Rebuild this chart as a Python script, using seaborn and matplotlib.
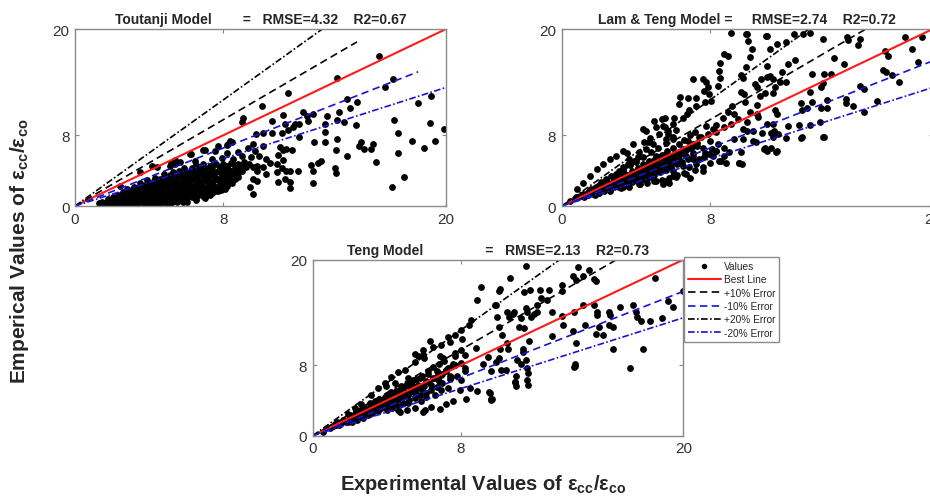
import numpy as np
import pandas as pd
import seaborn as sns
import matplotlib
matplotlib.use('Agg')
import matplotlib.pyplot as plt

toutanji_pts = [
    (16.4, 16.9), (14.1, 14.5), (17.16, 14.4), (16.7, 13.5), (11.47, 12.77), (10.1, 11.3), (14.65, 12.1),
    (15.2, 11.7), (19.2, 12.4), (18.5, 11.6), (19.9, 8.65), (19.13, 9.34), (19.4, 7.4), (18.8, 6.6),
    (18.15, 7.4), (17.2, 9.75), (17.4, 8.3), (17.75, 3.23), (17.07, 2.2), (17.43, 5.95), (16.2, 5.0),
    (16.08, 7.0), (15.6, 6.4), (15.4, 7.2), (15.3, 6.8), (15.96, 6.4), (15.15, 9.1), (14.65, 5.7),
    (14.1, 7.6), (14.07, 6.3), (14.03, 4.3), (14.07, 3.7), (14.25, 10.6), (14.1, 9.7), (14.5, 9.55),
    (14.8, 11.1), (13.6, 10.2), (13.5, 9.3), (13.5, 8.4), (13.47, 7.2), (12.9, 7.2), (13.26, 5.1),
    (13.08, 4.9), (12.7, 4.6), (12.85, 4.0), (12.85, 2.6), (12.3, 10.6), (12.58, 9.66), (12.81, 10.4),
    (12.49, 10.2), (12.1, 9.3), (12.1, 7.83), (11.86, 9.3), (11.77, 8.9), (11.23, 10.3), (11.3, 9.27),
    (11.5, 8.6), (11.14, 8.25), (10.63, 8.3), (10.6, 9.57), (10.15, 8.3), (9.76, 8.1), (9.61, 7.0),
    (11.05, 6.7), (11.2, 6.3), (11.4, 6.4), (11.7, 6.3), (10.95, 5.8), (11.23, 5.2), (10.87, 4.75),
    (10.3, 5.3), (10.5, 4.9), (10.15, 4.4), (9.6, 4.4), (9.8, 4.0), (10.3, 3.6), (10.87, 3.8),
    (11.14, 4.3), (11.4, 4.0), (11.6, 4.0), (12.0, 4.0), (10.93, 2.7), (11.6, 2.7), (11.6, 2.0),
    (11.3, 3.05), (9.8, 2.85), (9.6, 1.4), (9.43, 2.1),
    (9.07, 10.0), (8.98, 9.45), (8.45, 7.2), (8.17, 6.9), (7.0, 6.33), (6.23, 5.87), (5.4, 5.25),
    (4.13, 4.5), (4.4, 4.4), (3.5, 3.88), (2.42, 2.3), (5.66, 5.0), (5.2, 4.9), (6.47, 5.1),
    (7.55, 6.2), (7.7, 6.8), (8.27, 7.05), (8.36, 7.36), (6.9, 6.3), (6.2, 5.85), (5.4, 4.75),
    (5.1, 4.5), (10.15, 6.8), (9.9, 5.66), (9.6, 3.0), (9.8, 4.5),
    (1.3, 0.3), (1.6, 0.2), (1.9, 0.35), (2.2, 0.2), (2.5, 0.3), (2.8, 0.15), (3.1, 0.3), (3.4, 0.2),
    (3.7, 0.35), (4.0, 0.2), (4.3, 0.3), (4.6, 0.25), (4.9, 0.35), (5.2, 0.3), (5.5, 0.4), (5.8, 0.5),
    (1.8, 0.8), (2.1, 0.7), (2.4, 0.9), (2.7, 0.6), (3.0, 0.8), (3.3, 0.7), (3.6, 0.9), (3.9, 0.6),
    (4.2, 0.8), (4.5, 0.7), (4.8, 0.9), (5.1, 0.75), (5.4, 0.9), (5.7, 1.0), (6.0, 0.8), (6.3, 1.0),
    (6.6, 1.1), (2.3, 1.3), (2.6, 1.2), (2.9, 1.4), (3.2, 1.1), (3.5, 1.3), (3.8, 1.2), (4.1, 1.4),
    (4.4, 1.1), (4.7, 1.3), (5.0, 1.2), (5.3, 1.4), (5.6, 1.3), (5.9, 1.5), (6.2, 1.3), (6.5, 1.5),
    (6.8, 1.4), (7.1, 1.6), (7.4, 1.5), (7.7, 1.7), (2.8, 1.9), (3.1, 1.8), (3.4, 2.0), (3.7, 1.7),
    (4.0, 1.9), (4.3, 1.8), (4.6, 2.0), (4.9, 1.7), (5.2, 1.9), (5.5, 1.8), (5.8, 2.1), (6.1, 1.9),
    (6.4, 2.1), (6.7, 1.8), (7.0, 2.0), (7.3, 2.2), (7.6, 1.9), (7.9, 2.1), (8.2, 2.3), (3.5, 2.6),
    (3.8, 2.4), (4.1, 2.6), (4.4, 2.5), (4.7, 2.7), (5.0, 2.4), (5.3, 2.6), (5.6, 2.5), (5.9, 2.7),
    (6.2, 2.5), (6.5, 2.8), (6.8, 2.6), (7.1, 2.8), (7.4, 2.6), (7.7, 2.9), (8.0, 2.7), (8.3, 2.9),
    (8.6, 3.0), (4.3, 3.2), (4.6, 3.1), (4.9, 3.3), (5.2, 3.2), (5.5, 3.4), (5.8, 3.1), (6.1, 3.3),
    (6.4, 3.2), (6.7, 3.5), (7.0, 3.3), (7.3, 3.5), (7.6, 3.2), (7.9, 3.4), (8.2, 3.6), (8.5, 3.5),
    (8.8, 3.7), (5.3, 3.9), (5.6, 4.0), (5.9, 3.8), (6.2, 4.0), (6.5, 3.9), (6.8, 4.1), (7.1, 3.9),
    (7.4, 4.2), (7.7, 4.0), (8.0, 4.2), (8.3, 4.1), (8.6, 4.3), (8.9, 4.2), (9.2, 4.4), (6.5, 4.6),
    (6.9, 4.7), (7.3, 4.5), (7.6, 4.8), (8.0, 4.7), (8.4, 4.9), (8.8, 4.7), (9.1, 5.0), (9.4, 4.8),
    (7.4, 5.3), (7.9, 5.4), (8.5, 5.3), (9.0, 5.6), (9.5, 5.5), (8.8, 6.1), (9.3, 6.5), (8.2, 6.0),
    (9.7, 6.2),
    (1.45, 0.5), (1.75, 0.45), (2.05, 0.5), (2.35, 0.45), (2.65, 0.4), (2.95, 0.5), (3.25, 0.45),
    (3.55, 0.55), (3.85, 0.45), (4.15, 0.5), (4.45, 0.45), (4.75, 0.55), (5.05, 0.5), (5.35, 0.6),
    (5.65, 0.7), (6.05, 0.5), (6.5, 0.7), (7.0, 0.9), (2.05, 1.0), (2.35, 1.05), (2.65, 0.95),
    (2.95, 1.05), (3.25, 0.95), (3.55, 1.05), (3.85, 1.0), (4.15, 1.05), (4.45, 0.95), (4.75, 1.05),
    (5.05, 1.0), (5.35, 1.1), (5.65, 1.05), (5.95, 1.15), (6.4, 1.25), (6.9, 1.15), (7.3, 1.2),
    (2.6, 1.6), (2.95, 1.55), (3.25, 1.6), (3.55, 1.5), (3.85, 1.6), (4.15, 1.55), (4.45, 1.6),
    (4.75, 1.5), (5.05, 1.6), (5.35, 1.55), (5.65, 1.65), (5.95, 1.6), (6.25, 1.7), (6.6, 1.65),
    (6.95, 1.75), (7.25, 1.85), (7.55, 1.75), (7.85, 1.8), (8.1, 1.95), (3.2, 2.2), (3.55, 2.25),
    (3.85, 2.15), (4.15, 2.25), (4.45, 2.2), (4.75, 2.3), (5.05, 2.15), (5.35, 2.25), (5.65, 2.2),
    (5.95, 2.35), (6.25, 2.2), (6.55, 2.35), (6.85, 2.25), (7.15, 2.4), (7.5, 2.3), (7.8, 2.45),
    (8.1, 2.5), (8.45, 2.6), (3.9, 2.9), (4.25, 2.85), (4.55, 2.9), (4.85, 2.8), (5.15, 2.9),
    (5.45, 2.85), (5.75, 2.95), (6.05, 2.85), (6.35, 3.0), (6.65, 2.9), (6.95, 3.05), (7.25, 2.95),
    (7.55, 3.1), (7.85, 3.0), (8.15, 3.2), (8.45, 3.25), (8.8, 3.3), (4.8, 3.6), (5.1, 3.55),
    (5.4, 3.65), (5.7, 3.5), (6.0, 3.6), (6.3, 3.55), (6.6, 3.7), (6.9, 3.6), (7.2, 3.75),
    (7.5, 3.65), (7.8, 3.8), (8.1, 3.85), (8.4, 3.9), (8.7, 3.95), (9.0, 4.0), (5.9, 4.3),
    (6.3, 4.35), (6.7, 4.4), (7.0, 4.3), (7.4, 4.5), (7.8, 4.45), (8.2, 4.5), (8.6, 4.6), (9.0, 4.55),
]

lam_teng_pts = [
    (9.97, 19.4), (11.05, 19.25), (10.06, 18.6), (10.24, 17.7), (10.15, 16.8), (9.94, 15.7), (9.79, 14.5),
    (9.83, 12.65), (9.88, 11.7), (10.5, 11.45), (10.5, 10.4), (10.15, 10.6), (9.96, 9.45), (9.79, 8.7),
    (10.0, 8.5), (10.3, 7.4), (10.47, 7.2), (10.96, 6.55), (11.05, 6.2), (11.6, 6.2), (9.7, 4.8),
    (10.6, 10.05), (10.7, 12.45), (10.5, 13.4), (10.4, 13.8), (10.73, 14.35), (11.05, 15.85), (11.2, 17.7),
    (11.6, 18.3), (12.1, 18.5), (12.5, 19.4), (13.4, 19.6), (13.0, 19.4), (12.6, 16.5), (12.17, 16.0),
    (11.86, 15.1), (11.77, 14.0), (12.1, 14.0), (11.4, 14.35), (11.2, 14.7), (11.05, 14.55), (11.5, 13.4),
    (11.4, 12.8), (10.96, 12.8), (11.5, 10.85), (11.6, 10.4), (11.4, 9.3), (11.05, 9.3), (11.26, 8.3),
    (11.5, 8.2), (11.67, 8.1), (11.4, 7.8), (12.1, 7.7), (12.8, 9.1), (12.96, 7.76), (13.4, 9.1),
    (12.9, 11.6), (13.2, 11.1), (13.4, 12.85), (13.5, 14.9), (14.1, 18.9), (14.15, 14.9), (14.1, 13.85),
    (14.5, 14.9), (14.7, 16.7), (14.15, 7.8), (13.9, 9.45), (14.3, 11.1), (14.3, 12.0), (15.2, 16.0),
    (15.4, 19.05), (15.45, 18.8), (15.99, 18.15), (16.1, 18.9), (15.3, 11.6), (15.3, 12.1), (15.7, 11.3),
    (16.1, 13.6), (16.3, 13.2), (16.3, 10.6), (17.0, 11.9), (17.4, 17.5), (17.6, 16.9), (17.3, 15.4),
    (17.5, 15.1), (17.8, 14.85), (18.2, 14.0), (18.5, 19.15), (18.9, 17.7), (19.4, 19.05), (19.2, 16.3),
    (9.13, 19.6), (8.77, 17.2), (8.95, 17.0), (8.53, 16.2), (8.46, 15.3), (8.53, 14.5), (8.4, 13.6),
    (7.6, 14.35), (7.69, 13.0), (7.24, 12.2), (6.38, 12.3), (6.79, 12.2), (6.34, 11.5), (7.96, 12.65),
    (8.05, 11.9), (7.74, 11.7), (7.24, 11.3), (6.88, 10.85), (6.74, 10.4), (6.52, 10.0), (6.07, 10.0),
    (5.98, 9.27), (5.4, 9.8), (5.48, 9.07), (5.08, 8.9), (5.23, 8.14), (5.71, 8.14), (5.62, 7.57),
    (5.98, 7.76), (6.16, 8.6), (4.9, 7.0), (4.72, 7.2), (4.45, 7.2), (4.54, 6.44), (4.18, 6.06),
    (4.1, 5.5), (3.9, 5.1), (3.65, 5.3), (3.56, 4.75), (3.29, 4.37), (3.5, 5.95), (3.1, 4.0),
    (2.66, 3.43), (2.4, 3.05), (2.12, 2.68), (1.85, 2.1), (1.49, 1.7), (1.13, 1.35), (0.77, 0.97),
    (0.45, 0.6), (6.79, 7.38), (7.06, 7.0), (6.52, 6.44), (6.34, 6.06), (5.89, 5.5), (7.42, 7.76),
    (7.87, 8.14), (8.14, 8.7), (8.3, 9.1), (8.68, 10.0), (8.95, 10.6), (8.77, 8.9), (9.13, 9.27),
    (9.5, 9.8), (9.2, 11.3), (9.67, 12.9), (9.67, 14.8), (9.3, 10.4), (8.3, 6.25), (7.96, 5.9),
    (7.69, 5.5), (7.06, 5.35), (7.24, 4.8), (6.88, 4.37), (7.6, 4.0), (8.14, 5.7), (8.4, 7.0),
    (8.77, 5.7), (9.04, 6.1), (8.58, 5.14), (9.58, 4.87), (9.67, 6.06), (6.16, 3.25), (5.62, 2.85),
    (5.08, 2.85), (5.98, 3.96), (4.72, 3.25), (5.44, 4.37), (4.72, 5.1), (5.08, 5.7), (4.1, 3.6),
    (3.83, 2.85), (3.47, 3.05), (4.36, 4.0), (2.93, 2.68), (2.57, 2.1), (3.29, 2.1), (4.18, 2.5),
    (2.03, 1.7), (3.1, 3.25), (9.93, 19.4), (11.0, 19.25), (7.07, 14.3), (7.78, 14.0), (7.87, 13.4),
    (5.55, 10.0), (5.0, 9.6), (4.38, 8.7), (4.56, 8.5), (4.74, 7.7), (5.55, 8.9), (5.72, 8.5),
    (3.85, 7.0), (3.3, 6.2), (2.95, 5.66), (2.6, 5.28), (2.24, 4.72), (1.88, 4.15), (1.52, 3.4),
    (1.16, 2.64), (0.8, 1.9), (5.8, 2.64), (5.46, 2.45), (6.0, 3.4), (6.7, 3.58), (6.9, 3.2),
    (6.53, 4.5), (7.42, 5.28), (8.85, 4.9), (9.57, 4.83), (8.32, 6.2), (8.77, 6.6), (9.3, 7.55),
    (9.79, 7.55), (10.3, 8.5), (10.8, 8.3), (11.45, 8.5), (11.54, 6.1), (11.27, 6.6), (10.9, 6.4),
    (12.9, 7.7), (14.1, 7.85), (12.2, 9.05), (12.97, 10.9), (13.5, 11.7), (13.95, 11.1), (14.0, 13.4),
    (1.0, 1.1), (1.3, 1.2), (1.5, 1.5), (1.7, 1.4), (1.9, 1.7), (2.0, 1.5), (2.2, 2.0), (2.3, 1.7),
    (2.5, 2.2), (2.6, 1.9), (2.7, 2.6), (2.8, 2.1), (3.0, 2.4), (3.0, 3.0), (3.1, 2.2), (3.2, 3.3),
    (3.3, 2.6), (3.4, 2.9), (3.5, 2.4), (3.6, 3.5), (3.7, 3.1), (3.8, 2.7), (3.9, 3.8), (4.0, 3.3),
    (4.1, 2.9), (4.2, 4.2), (4.3, 3.6), (4.4, 3.1), (4.5, 4.5), (4.6, 3.9), (4.7, 3.3), (4.8, 4.8),
    (4.9, 4.2), (5.0, 3.5), (5.1, 5.3), (5.2, 4.5), (5.3, 3.8), (5.4, 5.8), (5.5, 4.9), (5.6, 4.1),
    (5.7, 6.2), (5.8, 5.2), (5.9, 4.4), (6.0, 6.6), (6.1, 5.5), (6.2, 4.7), (6.3, 7.0), (6.4, 5.9),
    (6.5, 5.0), (6.6, 7.5), (6.7, 6.3), (6.8, 5.3), (6.9, 8.0), (7.0, 6.7), (7.1, 5.6), (7.2, 8.4),
    (7.3, 7.1), (7.5, 7.8), (7.7, 6.0), (7.8, 9.0), (8.0, 7.4), (8.1, 6.4), (8.3, 8.4), (2.4, 2.9),
    (2.9, 3.6), (3.3, 4.1), (3.7, 4.6), (4.0, 5.0), (4.4, 5.5), (4.8, 6.1), (5.2, 6.6), (5.6, 7.1),
    (6.0, 7.6), (1.6, 1.9), (2.0, 2.4), (2.6, 1.7), (3.2, 2.0), (3.6, 2.2), (4.2, 2.5), (4.6, 2.6),
    (5.0, 2.8), (5.4, 2.9), (5.8, 3.2), (6.2, 3.5), (6.6, 3.7), (7.2, 4.1), (7.6, 4.4), (8.0, 4.9),
    (8.5, 5.1),
    (1.2, 1.0), (1.4, 1.3), (1.6, 1.5), (1.8, 1.3), (1.8, 2.0), (2.1, 1.8), (2.2, 2.3), (2.4, 2.0),
    (2.5, 2.6), (2.7, 2.3), (2.8, 2.9), (2.9, 2.5), (3.1, 2.7), (3.1, 3.4), (3.3, 3.0), (3.4, 3.6),
    (3.5, 3.2), (3.6, 2.8), (3.8, 3.5), (3.8, 4.0), (4.0, 3.6), (4.1, 4.3), (4.2, 3.2), (4.3, 4.0),
    (4.4, 4.7), (4.5, 3.5), (4.6, 4.3), (4.7, 5.0), (4.8, 3.8), (4.9, 4.6), (5.0, 5.2), (5.1, 4.0),
    (5.2, 4.9), (5.3, 5.5), (5.4, 4.3), (5.5, 5.2), (5.6, 5.9), (5.7, 4.6), (5.8, 5.6), (6.0, 5.0),
    (6.1, 6.0), (6.3, 5.3), (6.5, 6.2), (6.7, 5.7), (6.9, 6.5), (7.1, 6.0), (7.3, 6.8), (7.6, 6.5),
]

teng_pts = [
    (11.53, 19.3), (10.65, 17.9), (10.1, 16.7), (10.05, 16.4), (9.87, 14.9), (9.93, 13.5), (10.05, 12.4),
    (10.23, 11.4), (10.5, 10.5), (10.54, 9.8), (10.1, 9.8), (10.05, 8.8), (9.87, 8.4), (10.41, 7.5),
    (10.14, 7.5), (10.92, 6.15), (10.95, 6.8), (11.04, 8.6), (11.22, 8.2), (11.5, 8.6), (11.58, 7.7),
    (11.62, 7.1), (11.58, 6.35), (11.62, 5.75), (11.37, 9.5), (11.37, 9.9), (11.67, 10.8), (11.13, 12.4),
    (11.4, 12.2), (11.22, 13.4), (10.83, 13.8), (10.6, 13.5), (10.87, 14.0), (10.5, 14.0), (11.49, 14.5),
    (11.58, 14.0), (11.4, 16.3), (11.73, 16.6), (12.27, 16.6), (12.77, 16.6), (12.3, 15.6), (12.66, 15.4),
    (12.1, 14.9), (12.1, 14.1), (11.92, 13.8), (11.8, 13.5), (12.93, 14.1), (13.48, 17.1), (13.48, 16.4),
    (13.48, 13.6), (13.5, 12.6), (12.93, 11.3), (14.07, 18.1), (14.3, 19.2), (14.2, 17.7), (14.6, 18.1),
    (14.9, 18.8), (15.18, 17.8), (15.3, 17.6), (15.2, 14.9), (14.6, 14.8), (14.1, 14.0), (14.07, 11.9),
    (14.7, 12.6), (14.2, 10.5), (14.14, 8.2), (14.1, 7.8), (15.3, 11.6), (15.65, 11.4), (15.47, 12.3),
    (16.0, 12.6), (15.35, 14.0), (15.35, 13.7), (16.0, 14.0), (16.07, 13.7), (16.2, 12.4), (16.2, 9.9),
    (16.6, 14.6), (17.1, 7.7), (17.3, 14.9), (17.43, 14.1), (17.5, 13.5), (17.7, 13.0), (17.85, 9.8),
    (18.2, 13.0), (18.5, 17.9), (18.85, 13.4), (19.2, 15.3), (19.45, 14.6), (20.0, 16.4),
    (9.1, 16.9), (8.87, 15.4), (9.82, 14.85), (8.56, 13.1), (8.42, 12.6), (6.31, 10.8), (7.98, 12.0),
    (8.06, 11.0), (7.66, 11.4), (7.3, 11.2), (7.39, 10.7), (6.9, 10.3), (6.5, 10.1), (5.95, 9.7),
    (5.5, 9.25), (5.68, 9.0), (6.0, 8.8), (6.85, 9.1), (7.03, 8.8), (7.66, 9.35), (7.98, 9.7),
    (8.2, 9.17), (8.83, 9.93), (9.46, 8.9), (9.19, 8.2), (9.6, 7.4), (9.5, 5.0), (9.64, 4.17),
    (8.2, 7.65), (7.66, 8.05), (7.2, 7.5), (6.76, 7.1), (7.48, 6.7), (8.02, 6.3), (8.47, 5.4),
    (7.93, 5.2), (7.3, 5.4), (6.94, 5.2), (6.58, 4.6), (6.13, 4.4), (5.86, 3.9), (6.04, 2.9),
    (5.14, 3.7), (5.4, 5.6), (5.14, 6.5), (4.78, 5.6), (4.42, 6.0), (4.24, 5.0), (3.96, 5.6),
    (4.05, 4.6), (3.6, 4.2), (3.34, 3.9), (3.07, 3.7), (2.71, 3.3), (2.35, 2.7), (1.99, 2.35),
    (1.63, 1.8), (1.27, 1.2), (0.91, 0.83), (0.55, 0.4), (5.5, 8.4), (5.95, 9.17), (4.96, 7.45),
    (4.6, 7.27), (4.24, 6.7), (3.88, 5.95), (3.52, 5.4), (3.16, 4.6), (2.62, 3.65), (2.26, 3.1),
    (1.9, 2.5), (3.34, 2.9), (3.88, 3.3), (4.42, 3.7), (4.78, 4.2), (5.14, 4.6), (5.5, 4.8),
    (4.6, 2.9), (10.9, 6.06), (11.0, 5.7), (9.6, 4.1), (14.15, 7.95),
    (1.0, 1.0), (1.2, 1.3), (1.4, 1.2), (1.6, 1.6), (1.8, 1.5), (2.0, 1.9), (2.1, 1.6), (2.3, 2.2),
    (2.4, 1.8), (2.6, 2.5), (2.7, 2.0), (2.9, 2.8), (3.0, 2.3), (3.1, 3.2), (3.2, 2.6), (3.4, 3.4),
    (3.5, 2.8), (3.6, 3.7), (3.7, 3.1), (3.8, 4.1), (3.9, 3.4), (4.0, 2.9), (4.1, 4.4), (4.2, 3.7),
    (4.3, 3.2), (4.4, 4.8), (4.5, 4.0), (4.6, 3.4), (4.7, 5.2), (4.8, 4.4), (4.9, 3.7), (5.0, 5.6),
    (5.1, 4.7), (5.2, 4.0), (5.3, 6.0), (5.4, 5.1), (5.5, 4.3), (5.6, 6.4), (5.7, 5.4), (5.8, 4.6),
    (5.9, 6.8), (6.0, 5.7), (6.1, 4.9), (6.2, 7.3), (6.3, 6.1), (6.4, 5.2), (6.5, 7.8), (6.6, 6.5),
    (6.7, 5.5), (6.8, 8.2), (6.9, 6.9), (7.0, 6.0), (7.1, 8.5), (7.2, 7.3), (7.4, 6.4), (7.5, 7.9),
    (7.7, 9.0), (7.8, 6.8), (8.0, 8.3), (8.2, 7.3), (4.7, 2.7), (5.1, 2.9), (5.5, 3.1), (5.97, 2.65),
    (6.4, 3.3), (6.87, 3.03), (7.2, 3.6), (7.6, 3.9), (8.3, 4.17), (8.85, 5.1), (9.57, 4.9), (9.66, 4.17),
    (1.1, 1.1), (1.3, 1.5), (1.5, 1.4), (1.7, 1.8), (1.9, 1.6), (2.0, 2.2), (2.2, 1.9), (2.3, 2.5),
    (2.5, 2.2), (2.6, 2.9), (2.8, 2.4), (2.9, 3.1), (3.0, 2.6), (3.2, 3.5), (3.3, 2.9), (3.4, 3.8),
    (3.5, 3.1), (3.6, 4.1), (3.7, 3.4), (3.9, 4.4), (4.0, 3.6), (4.1, 4.0), (4.2, 4.8), (4.3, 3.9),
    (4.5, 5.1), (4.6, 4.2), (4.7, 4.7), (4.8, 5.5), (4.9, 4.5), (5.0, 5.0), (5.1, 5.9), (5.2, 4.8),
    (5.3, 5.4), (5.4, 6.3), (5.5, 5.1), (5.7, 5.8), (5.8, 6.6), (5.9, 5.3), (6.1, 6.2), (6.2, 7.0),
    (6.4, 5.8), (6.5, 6.6), (6.7, 7.4), (6.8, 6.2), (7.0, 7.0), (7.3, 7.7), (7.4, 6.8), (7.6, 8.2),
]

titles = [
    'Toutanji Model        =   RMSE=4.32    R2=0.67',
    'Lam & Teng Model =     RMSE=2.74    R2=0.72',
    'Teng Model                =   RMSE=2.13    R2=0.73',
]

# reference lines: slope and x extent for each panel
line_labels = ['Best Line', '+10% Error', '-10% Error', '+20% Error', '-20% Error']
line_slopes = [1.0, 1.22, 0.82, 1.5, 0.67]
line_xmax = [
    [20, 15.2, 18.5, 20, 20],
    [20, 20, 20, 20, 20],
    [20, 20, 20, 20, 20],
]
line_colors = ['#ff1a1a', 'black', '#1414d2', 'black', '#1414d2']
line_dashes = [None, (4.5, 2.6), (4.5, 2.6), (4.0, 1.4, 1.0, 1.4), (4.0, 1.4, 1.0, 1.4)]
line_widths = [1.5, 1.2, 1.2, 1.2, 1.2]

sns.set_style('white')
plt.rcParams['font.family'] = ['Liberation Sans', 'DejaVu Sans']
plt.rcParams['mathtext.fontset'] = 'custom'
plt.rcParams['mathtext.rm'] = 'Liberation Sans'
plt.rcParams['mathtext.bf'] = 'Liberation Sans:bold'

fig = plt.figure(figsize=(9.3, 5.02), dpi=100)
positions = [
    [0.0806, 0.5876, 0.399, 0.3526],
    [0.604, 0.5876, 0.399, 0.3526],
    [0.3362, 0.1301, 0.3985, 0.3506],
]

for i, pts in enumerate([toutanji_pts, lam_teng_pts, teng_pts]):
    ax = fig.add_axes(positions[i])
    df = pd.DataFrame(pts, columns=['exp', 'emp'])
    sns.scatterplot(data=df, x='exp', y='emp', ax=ax, color='black', s=24,
                    linewidth=0, label='Values', legend=False)
    for k in range(5):
        xs = np.array([0, line_xmax[i][k]])
        ln, = ax.plot(xs, line_slopes[k] * xs, color=line_colors[k],
                      lw=line_widths[k], label=line_labels[k])
        if line_dashes[k] is not None:
            ln.set_dashes(line_dashes[k])
    ax.set_xlim(0, 20)
    ax.set_ylim(0, 20)
    ax.set_xticks([0, 8, 20])
    ax.set_yticks([0, 8, 20])
    ax.set_xlabel('')
    ax.set_ylabel('')
    ax.tick_params(direction='in', length=3, width=0.8, color='#888888',
                   labelsize=11, labelcolor='#333333', top=True, right=True,
                   bottom=True, left=True, pad=4)
    for sp in ax.spines.values():
        sp.set_color('#8a8a8a')
        sp.set_linewidth(1.0)
    ax.set_title(titles[i], fontsize=10, fontweight='bold', pad=4)
    if i == 2:
        ax.legend(loc='upper left', bbox_to_anchor=(0.7355, 0.486),
                  bbox_transform=fig.transFigure, fontsize=7.3, frameon=True,
                  fancybox=False, edgecolor='#8a8a8a', framealpha=1,
                  handlelength=3.2, handletextpad=0.3, labelspacing=0.33,
                  borderpad=0.4, borderaxespad=0, markerscale=0.8)

fig.text(0.0215, 0.50, r'Emperical Values of ε$_{\mathbf{cc}}$/ε$_{\mathbf{co}}$',
         rotation=90, ha='center', va='center', fontsize=15, fontweight='bold')
fig.text(0.52, 0.035, r'Experimental Values of ε$_{\mathbf{cc}}$/ε$_{\mathbf{co}}$',
         ha='center', va='center', fontsize=14.5, fontweight='bold')

fig.savefig('out.png', dpi=100)
